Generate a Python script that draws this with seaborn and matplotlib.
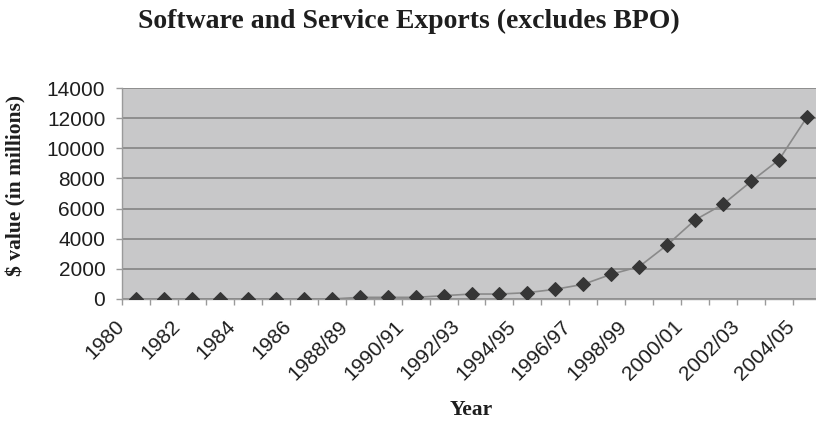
import matplotlib
matplotlib.use("Agg")
import matplotlib.pyplot as plt
import matplotlib.transforms as mtransforms
import seaborn as sns
import pandas as pd
import numpy as np

# ---------------------------------------------------------------------------
# Data
# ---------------------------------------------------------------------------
years = ["1980", "1981", "1982", "1983", "1984", "1985", "1986", "1987",
         "1988/89", "1989/90", "1990/91", "1991/92", "1992/93", "1993/94",
         "1994/95", "1995/96", "1996/97", "1997/98", "1998/99", "1999/00",
         "2000/01", "2001/02", "2002/03", "2003/04", "2004/05"]
exports = [0, 0, 0, 0, 0, 0, 0, 0,
           110, 110, 110, 220, 330, 330,
           420, 645, 975, 1640, 2150, 3590,
           5250, 6290, 7800, 9240, 12070]
y_ticks = [0, 2000, 4000, 6000, 8000, 10000, 12000, 14000]

PLOT_BG = "#c8c8c9"
GRID = "#8e8e8e"
LINE = "#8a8a8a"
MARKER = "#363636"
AXIS = "#9a9a9a"
TEXT = "#1e1e1e"
SERIF = "Liberation Serif"
SANS = "Liberation Sans"

sns.set_style("white")
plt.rcParams["font.family"] = [SANS, "DejaVu Sans"]

W, H = 816, 421
fig = plt.figure(figsize=(W / 100, H / 100), dpi=100)
fig.patch.set_facecolor("white")
ax = fig.add_axes([122 / W, 1 - 299 / H, (821 - 122) / W, (299 - 88) / H])

df = pd.DataFrame({"pos": np.arange(len(years)), "value": exports})
sns.lineplot(data=df, x="pos", y="value", ax=ax, color=LINE, linewidth=1.2,
             marker="D", markersize=7, markerfacecolor=MARKER,
             markeredgecolor=MARKER, zorder=3)

ax.set_facecolor(PLOT_BG)
ax.set_xlim(-0.5, len(years) - 0.5)
ax.set_ylim(y_ticks[0], y_ticks[-1])
ax.set_yticks(y_ticks)
ax.set_yticklabels([str(v) for v in y_ticks])
ax.yaxis.grid(True, color=GRID, linewidth=1.4)
ax.xaxis.grid(False)
ax.set_axisbelow(True)

for side in ["top", "right"]:
    ax.spines[side].set_visible(False)
for side in ["left", "bottom"]:
    ax.spines[side].set_color(AXIS)
    ax.spines[side].set_linewidth(1.0)

# category labels every other year, tick marks between categories
ax.set_xticks(df["pos"][::2])
ax.set_xticklabels(years[::2])
ax.set_xticks(np.arange(-0.5, len(years), 1.0), minor=True)
ax.tick_params(axis="x", which="major", length=0, pad=17.5, labelsize=15,
               labelcolor=TEXT)
ax.tick_params(axis="x", which="minor", length=4, width=1, color=AXIS,
               direction="out", bottom=True)
ax.tick_params(axis="y", length=4, width=1, color=AXIS, pad=8,
               labelsize=15, labelcolor=TEXT, left=True)

shift = mtransforms.ScaledTranslation(-0.15, 0, fig.dpi_scale_trans)
for lbl in ax.get_xticklabels():
    lbl.set_rotation(45)
    lbl.set_ha("right")
    lbl.set_va("center")
    lbl.set_rotation_mode("anchor")
    lbl.set_transform(lbl.get_transform() + shift)

ax.set_xlabel("Year", fontfamily=SERIF, fontweight="bold", fontsize=15.5,
              color=TEXT, va="center")
ax.set_ylabel("\\$ value (in millions)", fontfamily=SERIF, fontweight="bold",
              fontsize=15.5, color=TEXT, va="center")
ax.xaxis.set_label_coords(0.5, (299 - 410) / 211)
ax.yaxis.set_label_coords((16 - 122) / 699, (299 - 185) / 211)

fig.text(408.5 / W, 1 - 28 / H, "Software and Service Exports (excludes BPO)",
         ha="center", va="baseline", fontfamily=SERIF, fontweight="bold",
         fontsize=20, color=TEXT)

fig.savefig("out.png", dpi=100)
